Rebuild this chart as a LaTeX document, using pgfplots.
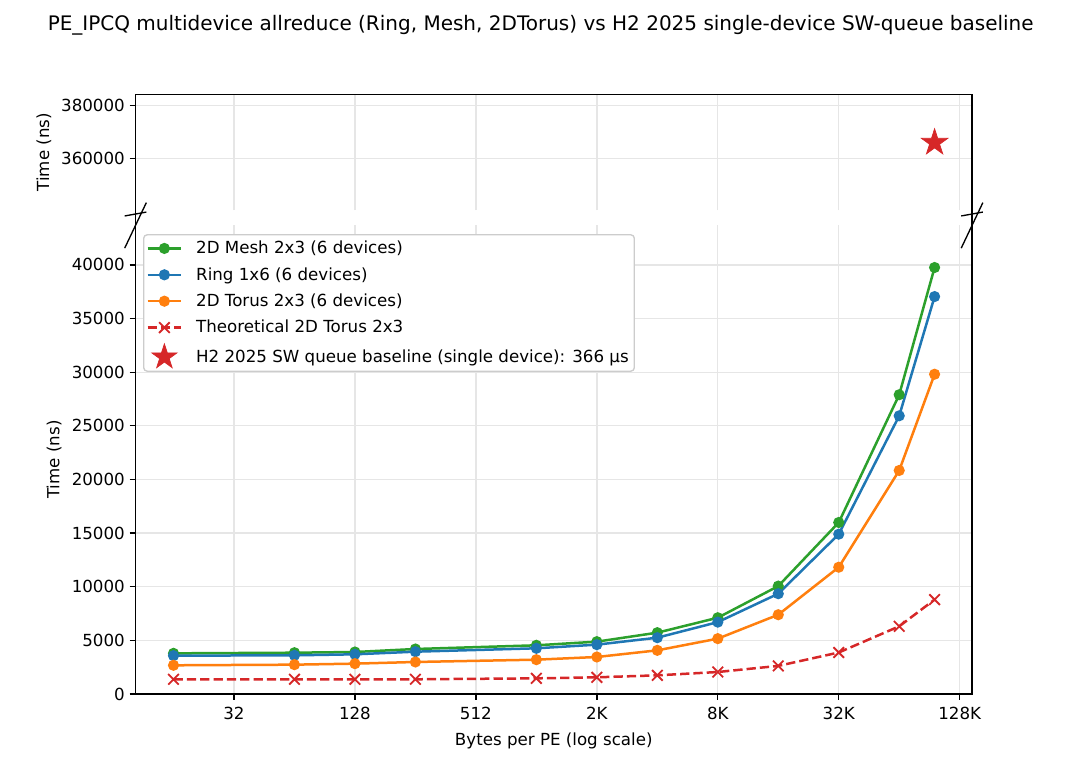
\documentclass[border=0pt]{standalone}
\usepackage{fontspec}
\setmainfont{DejaVu Sans}
\usepackage{pgfplots}
\usepackage{pgfplotstable}
\pgfplotsset{compat=1.18}
\usetikzlibrary{plotmarks}

\definecolor{tabblue}{HTML}{1F77B4}
\definecolor{taborange}{HTML}{FF7F0E}
\definecolor{tabgreen}{HTML}{2CA02C}
\definecolor{tabred}{HTML}{D62728}
\definecolor{gridc}{RGB}{230,230,230}
\definecolor{legc}{RGB}{204,204,204}

\pgfdeclareplotmark{fstar}{%
 \pgfpathmoveto{\pgfpointpolar{90}{\pgfplotmarksize}}%
 \pgfpathlineto{\pgfpointpolar{126}{0.382\pgfplotmarksize}}%
 \pgfpathlineto{\pgfpointpolar{162}{\pgfplotmarksize}}%
 \pgfpathlineto{\pgfpointpolar{198}{0.382\pgfplotmarksize}}%
 \pgfpathlineto{\pgfpointpolar{234}{\pgfplotmarksize}}%
 \pgfpathlineto{\pgfpointpolar{270}{0.382\pgfplotmarksize}}%
 \pgfpathlineto{\pgfpointpolar{306}{\pgfplotmarksize}}%
 \pgfpathlineto{\pgfpointpolar{342}{0.382\pgfplotmarksize}}%
 \pgfpathlineto{\pgfpointpolar{18}{\pgfplotmarksize}}%
 \pgfpathlineto{\pgfpointpolar{54}{0.382\pgfplotmarksize}}%
 \pgfpathclose
 \pgfusepathqfillstroke}

\pgfplotstableread{
x mesh ring torus theo
16 3790 3575 2675 1370
64 3850 3605 2735 1370
128 3915 3700 2830 1370
256 4195 3945 2985 1370
1024 4540 4260 3200 1460
2048 4880 4600 3450 1555
4096 5717 5250 4070 1740
8192 7110 6700 5160 2050
16384 10060 9350 7390 2620
32768 15990 14900 11820 3870
65536 27900 25935 20840 6310
98304 39760 37050 29810 8800
}\datatable

\begin{document}
\begin{tikzpicture}
\useasboundingbox (0,0) rectangle (777.6bp,561.6bp);

% bottom axis
\begin{axis}[
  scale only axis, width=602.3bp, height=337.5bp,
  at={(97.56bp,61.92bp)}, anchor=south west,
  xmode=log, log basis x=2, xmin=10.35, xmax=151000,
  axis line style={draw=none},
  tick align=outside, major tick length=4.2bp,
  tick style={black, line width=0.96bp},
  xtick={32,128,512,2048,8192,32768,131072},
  xticklabels={32,128,512,2K,8K,32K,128K},
  grid=major, grid style={line width=0.96bp, color=gridc},
  xtick pos=left, ytick pos=left,
  scaled y ticks=false, scaled x ticks=false,
  tick label style={font=\fontsize{12bp}{14bp}\selectfont},
  xticklabel style={yshift=-1.8bp},
  label style={font=\fontsize{12bp}{14bp}\selectfont},
  ymin=0, ymax=43700,
  ytick={0,5000,10000,15000,20000,25000,30000,35000,40000},
  yticklabels={0,5000,10000,15000,20000,25000,30000,35000,40000},
  xlabel={Bytes per PE (log scale)},
  ylabel={Time (ns)},
  xlabel style={at={(axis description cs:0.5,-0.1)}, anchor=center},
  ylabel style={at={(axis description cs:-0.0974,0.5)}, anchor=center},
  legend cell align=left,
  legend image code/.code={\draw[mark repeat=2,mark phase=2,#1] plot coordinates {(0bp,0bp) (12bp,0bp) (24bp,0bp)};},
  legend style={at={(axis description cs:0.009,0.981)}, anchor=north west,
    draw=legc, line width=0.96bp, rounded corners=2.5bp, fill=white,
    font=\fontsize{12bp}{14bp}\selectfont,
    inner xsep=2bp, inner ysep=2.5bp, row sep=4.4bp, column sep=8bp},
]
\addplot[line width=1.8bp, tabgreen, mark=*, mark size=3.4bp, mark options={solid, fill=tabgreen, line width=1.2bp}] table[x=x,y=mesh] {\datatable};
\addlegendentry{2D Mesh 2x3 (6 devices)}
\addplot[line width=1.8bp, tabblue, mark=*, mark size=3.4bp, mark options={solid, fill=tabblue, line width=1.2bp}] table[x=x,y=ring] {\datatable};
\addlegendentry{Ring 1x6 (6 devices)}
\addplot[line width=1.8bp, taborange, mark=*, mark size=3.4bp, mark options={solid, fill=taborange, line width=1.2bp}] table[x=x,y=torus] {\datatable};
\addlegendentry{2D Torus 2x3 (6 devices)}
\addplot[line width=1.8bp, tabred, dash pattern=on 6.7bp off 2.9bp, mark=x, mark size=5.4bp, mark options={solid, line width=1.3bp}] table[x=x,y=theo] {\datatable};
\addlegendentry{Theoretical 2D Torus 2x3}
\addlegendimage{only marks, mark=fstar, mark size=9.5bp, tabred, line width=0.5bp}
\addlegendentry{H2 2025 SW queue baseline (single device): 366 µs}
\end{axis}

% top axis
\begin{axis}[
  scale only axis, width=602.3bp, height=83.5bp,
  at={(97.56bp,410.2bp)}, anchor=south west,
  xmode=log, log basis x=2, xmin=10.35, xmax=151000,
  axis line style={draw=none},
  tick align=outside, major tick length=4.2bp,
  tick style={black, line width=0.96bp},
  xtick={32,128,512,2048,8192,32768,131072},
  xticklabels={},
  xtick style={draw=none},
  grid=major, grid style={line width=0.96bp, color=gridc},
  xtick pos=left, ytick pos=left,
  scaled y ticks=false, scaled x ticks=false,
  tick label style={font=\fontsize{12bp}{14bp}\selectfont},
  label style={font=\fontsize{12bp}{14bp}\selectfont},
  ymin=340380, ymax=384300,
  ytick={360000,380000},
  yticklabels={360000,380000},
  ylabel={Time (ns)},
  ylabel style={at={(axis description cs:-0.1094,0.5)}, anchor=center},
]
\addplot[only marks, mark=fstar, mark size=10bp, tabred, line width=0.5bp] coordinates {(98304,366000)};
\end{axis}

% spines
\draw[line width=0.96bp, line cap=rect] (97.56bp,61.92bp) -- (97.56bp,493.7bp);
\draw[line width=0.96bp, line cap=rect] (699.86bp,61.92bp) -- (699.86bp,493.7bp);
\draw[line width=0.96bp, line cap=rect] (97.56bp,61.92bp) -- (699.86bp,61.92bp);
\draw[line width=0.96bp, line cap=rect] (97.56bp,493.7bp) -- (699.86bp,493.7bp);
% break marks
\draw[line width=0.96bp] (89.76bp,406.1bp) -- (105.36bp,408.9bp);
\draw[line width=0.96bp] (89.76bp,382.9bp) -- (105.36bp,415.7bp);
\draw[line width=0.96bp] (692.06bp,406.1bp) -- (707.66bp,408.9bp);
\draw[line width=0.96bp] (692.06bp,382.9bp) -- (707.66bp,415.7bp);

% title
\node[anchor=base, font=\fontsize{14.4bp}{17bp}\selectfont] at (389.3bp,539.3bp)
  {PE\_IPCQ multidevice allreduce (Ring, Mesh, 2DTorus) vs H2 2025 single-device SW-queue baseline};
\end{tikzpicture}
\end{document}
